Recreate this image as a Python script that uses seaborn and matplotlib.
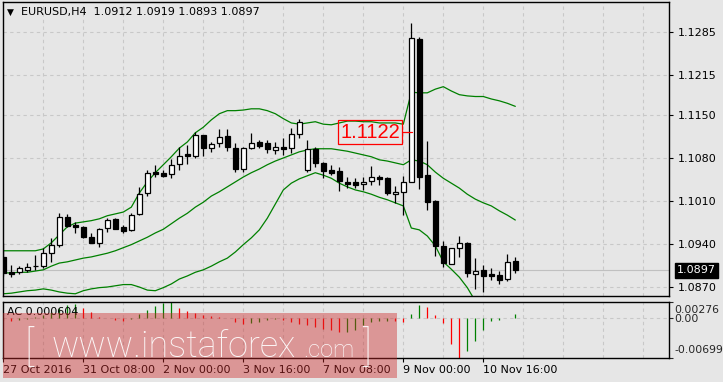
import numpy as np
import pandas as pd
import matplotlib
matplotlib.use("Agg")
import matplotlib.pyplot as plt
import seaborn as sns
from matplotlib.patches import Rectangle

# ---------------- data ----------------
open_ = [1.0919, 1.0894, 1.0894, 1.0898, 1.0904, 1.0904, 1.0925, 1.0939, 1.0984, 1.0971,
         1.0968, 1.0951, 1.0942, 1.0966, 1.0981, 1.0968, 1.0963, 1.0989, 1.1023, 1.1057,
         1.1056, 1.1054, 1.1070, 1.1087, 1.1083, 1.1117, 1.1096, 1.1104, 1.1116, 1.1096,
         1.1062, 1.1096, 1.1106, 1.1104, 1.1093, 1.1098, 1.1096, 1.1119, 1.1060, 1.1095,
         1.1072, 1.1060, 1.1059, 1.1041, 1.1041, 1.1038, 1.1043, 1.1049, 1.1047, 1.1021,
         1.1025, 1.1041, 1.1274, 1.1052, 1.1010, 1.0937, 1.0908, 1.0934, 1.0942, 1.0891,
         1.0898, 1.0891, 1.0890, 1.0883, 1.0912]
high = [1.0942, 1.0906, 1.0904, 1.0909, 1.0922, 1.0934, 1.0950, 1.0990, 1.0989, 1.0976,
        1.0969, 1.0958, 1.0966, 1.0982, 1.0982, 1.0971, 1.0990, 1.1033, 1.1060, 1.1069,
        1.1060, 1.1078, 1.1098, 1.1101, 1.1122, 1.1117, 1.1106, 1.1127, 1.1127, 1.1104,
        1.1098, 1.1121, 1.1109, 1.1109, 1.1106, 1.1113, 1.1129, 1.1144, 1.1109, 1.1098,
        1.1073, 1.1069, 1.1065, 1.1049, 1.1047, 1.1049, 1.1067, 1.1052, 1.1049, 1.1034,
        1.1051, 1.1300, 1.1277, 1.1108, 1.1012, 1.0945, 1.0934, 1.0953, 1.0943, 1.0917,
        1.0906, 1.0901, 1.0896, 1.0924, 1.0919]
low = [1.0888, 1.0886, 1.0891, 1.0894, 1.0898, 1.0901, 1.0911, 1.0935, 1.0968, 1.0958,
       1.0950, 1.0942, 1.0935, 1.0960, 1.0964, 1.0958, 1.0961, 1.0987, 1.1018, 1.1049,
       1.1049, 1.1047, 1.1060, 1.1070, 1.1080, 1.1083, 1.1090, 1.1098, 1.1091, 1.1057,
       1.1057, 1.1095, 1.1096, 1.1088, 1.1087, 1.1085, 1.1088, 1.1113, 1.1057, 1.1065,
       1.1047, 1.1052, 1.1026, 1.1031, 1.1031, 1.1028, 1.1036, 1.1036, 1.1020, 1.1007,
       1.0987, 1.1041, 1.1030, 1.0995, 1.0921, 1.0903, 1.0908, 1.0919, 1.0886, 1.0867,
       1.0862, 1.0882, 1.0875, 1.0880, 1.0893]
close = [1.0893, 1.0891, 1.0901, 1.0903, 1.0904, 1.0925, 1.0939, 1.0984, 1.0969, 1.0968,
         1.0951, 1.0942, 1.0964, 1.0979, 1.0964, 1.0961, 1.0987, 1.1021, 1.1056, 1.1054,
         1.1051, 1.1069, 1.1083, 1.1083, 1.1117, 1.1096, 1.1103, 1.1114, 1.1098, 1.1062,
         1.1096, 1.1104, 1.1100, 1.1095, 1.1098, 1.1095, 1.1119, 1.1139, 1.1095, 1.1072,
         1.1059, 1.1056, 1.1043, 1.1038, 1.1036, 1.1041, 1.1049, 1.1046, 1.1023, 1.1025,
         1.1041, 1.1275, 1.1049, 1.1008, 1.0937, 1.0909, 1.0934, 1.0942, 1.0893, 1.0896,
         1.0888, 1.0888, 1.0882, 1.0911, 1.0897]

bb_upper = [1.0929, 1.0929, 1.0929, 1.0929, 1.0929, 1.0932, 1.0942, 1.0955, 1.0968, 1.0974,
            1.0976, 1.0978, 1.0981, 1.0986, 1.0989, 1.0992, 1.1000, 1.1023, 1.1041, 1.1056,
            1.1069, 1.1082, 1.1096, 1.1106, 1.1121, 1.1130, 1.1142, 1.1152, 1.1157, 1.1157,
            1.1158, 1.1160, 1.1160, 1.1157, 1.1152, 1.1144, 1.1137, 1.1135, 1.1137, 1.1139,
            1.1135, 1.1134, 1.1137, 1.1140, 1.1140, 1.1139, 1.1139, 1.1137, 1.1137, 1.1137,
            1.1135, 1.1187, 1.1186, 1.1186, 1.1192, 1.1196, 1.1189, 1.1183, 1.1181, 1.1180,
            1.1180, 1.1176, 1.1173, 1.1169, 1.1164]
bb_middle = [1.0893, 1.0893, 1.0894, 1.0894, 1.0896, 1.0898, 1.0904, 1.0909, 1.0911, 1.0914,
             1.0917, 1.0919, 1.0922, 1.0925, 1.0929, 1.0934, 1.0939, 1.0945, 1.0951, 1.0958,
             1.0964, 1.0973, 1.0982, 1.0990, 1.1000, 1.1008, 1.1018, 1.1025, 1.1033, 1.1041,
             1.1049, 1.1056, 1.1062, 1.1069, 1.1075, 1.1080, 1.1085, 1.1090, 1.1093, 1.1095,
             1.1095, 1.1095, 1.1093, 1.1091, 1.1088, 1.1085, 1.1082, 1.1077, 1.1075, 1.1072,
             1.1069, 1.1077, 1.1075, 1.1069, 1.1057, 1.1047, 1.1039, 1.1031, 1.1021, 1.1013,
             1.1007, 1.1002, 1.0994, 1.0987, 1.0979]
bb_lower = [1.0859, 1.0860, 1.0862, 1.0864, 1.0865, 1.0867, 1.0865, 1.0862, 1.0860, 1.0859,
            1.0864, 1.0867, 1.0869, 1.0870, 1.0872, 1.0874, 1.0874, 1.0870, 1.0865, 1.0864,
            1.0869, 1.0875, 1.0883, 1.0888, 1.0894, 1.0898, 1.0904, 1.0911, 1.0917, 1.0927,
            1.0939, 1.0950, 1.0963, 1.0982, 1.1005, 1.1028, 1.1039, 1.1046, 1.1051, 1.1056,
            1.1052, 1.1047, 1.1039, 1.1033, 1.1028, 1.1025, 1.1021, 1.1016, 1.1012, 1.1007,
            1.1002, 1.0966, 1.0963, 1.0953, 1.0937, 1.0911, 1.0899, 1.0886, 1.0869, 1.0847,
            1.0834, 1.0826, 1.0815, 1.0806, 1.0794]

ac = [-0.0003, -0.0005, -0.0004, -0.0002, 0.0001, 0.0005, 0.0010, 0.0018, 0.0022, 0.0024,
      0.0018, 0.0011, 0.0002, -0.0001, -0.0004, -0.0005, -0.0002, 0.0007, 0.0013, 0.0020,
      0.0025, 0.00276, 0.0018, 0.0012, 0.0008, 0.0005, 0.0003, 0.0001, 0.0000, -0.0007,
      -0.0010, -0.0009, -0.0007, -0.0004, -0.0002, -0.0004, -0.0007, -0.0010, -0.0013, -0.0016,
      -0.0019, -0.0022, -0.0025, -0.0024, -0.0022, -0.0013, -0.0007, -0.0006, -0.0005, -0.0006,
      -0.0007, 0.0007, 0.0022, 0.0019, 0.0005, -0.0009, -0.0046, -0.00699, -0.0058, -0.0041,
      -0.0021, -0.0005, -0.0003, 0.0000, 0.000604]

date_labels = ["27 Oct 2016", "31 Oct 08:00", "2 Nov 00:00", "3 Nov 16:00",
               "7 Nov 08:00", "9 Nov 00:00", "10 Nov 16:00"]
date_label_bars = [0, 10, 20, 30, 40, 50, 60]
price_ticks = [1.1285, 1.1215, 1.1150, 1.1080, 1.1010, 1.0940, 1.0870]
price_tick_labels = ["1.1285", "1.1215", "1.1150", "1.1080", "1.1010", "1.0940", "1.0870"]
ac_top, ac_bottom = 0.00276, -0.00699
last_price = 1.0897
marked_price = 1.1122
header = "EURUSD,H4  1.0912 1.0919 1.0893 1.0897"

# ---------------- style ----------------
sns.set_style("white")
plt.rcParams['font.family'] = ['DejaVu Sans']
BG = '#e6e6e6'
GRID = '#c8c8c8'
GREEN = '#008000'
FS = 8.0

W, H = 723, 382
fig = plt.figure(figsize=(W / 100, H / 100), dpi=100)
fig.patch.set_facecolor(BG)


def fx(px):
    return px / W


def fy(py):
    return 1 - py / H


ax = fig.add_axes([fx(3), fy(296), fx(669) - fx(3), fy(2) - fy(296)])
ax2 = fig.add_axes([fx(3), fy(358), fx(669) - fx(3), fy(302) - fy(358)])
for a in (ax, ax2):
    a.set_facecolor(BG)
    for s in a.spines.values():
        s.set_color('black')
        s.set_linewidth(1.0)

df = pd.DataFrame({'bar': np.arange(len(close)), 'open': open_, 'high': high,
                   'low': low, 'close': close, 'upper': bb_upper,
                   'middle': bb_middle, 'lower': bb_lower, 'ac': ac})

XMIN, XMAX = -0.04, 83.21
dash = (0, (3, 3))

# ---------------- main chart ----------------
for k in range(5, 84, 5):
    ax.axvline(k, color=GRID, lw=0.8, ls=dash, zorder=0)
for p in price_ticks:
    ax.axhline(p, color=GRID, lw=0.8, ls=dash, zorder=0)
ax.axhline(last_price, color='#c0c0c0', lw=0.8, zorder=0.5)

for col in ['upper', 'middle', 'lower']:
    sns.lineplot(data=df, x='bar', y=col, ax=ax, color=GREEN, lw=0.9, zorder=2)

ax.vlines(df['bar'], df['low'], df['high'], color='black', lw=0.9, zorder=3)
up = df['close'] >= df['open']
body_lo = np.minimum(df['open'], df['close'])
body_h = np.abs(df['close'] - df['open'])
ax.bar(df['bar'][up], body_h[up], bottom=body_lo[up], width=0.62,
       color='white', edgecolor='black', linewidth=0.9, zorder=4)
ax.bar(df['bar'][~up], body_h[~up], bottom=body_lo[~up], width=0.62,
       color='black', edgecolor='black', linewidth=0.9, zorder=4)

ax.set_xlim(XMIN, XMAX)
ax.set_ylim(1.08554, 1.13338)
ax.set_xlabel('')
ax.set_ylabel('')
ax.set_xticks([])
ax.yaxis.tick_right()
ax.set_yticks(price_ticks)
ax.set_yticklabels(price_tick_labels)
ax.tick_params(axis='y', direction='out', length=3, width=0.8, pad=3,
               labelsize=FS, colors='black', right=True, left=False)

# marked level label
ax.text(45.84, marked_price, "1.1122", color='red', fontsize=14.5,
        family=['Liberation Sans', 'DejaVu Sans'], ha='center', va='center', zorder=6,
        bbox=dict(boxstyle='square,pad=0.12', fc='none', ec='red', lw=0.9))
ax.plot([49.84, 51.1], [marked_price, marked_price], color='red', lw=0.9, zorder=6)

# current price box
ax.annotate("1.0897", xy=(1.0, last_price), xycoords=('axes fraction', 'data'),
            xytext=(8, 0), textcoords='offset pixels', color='white', fontsize=FS,
            ha='left', va='center', zorder=7, annotation_clip=False,
            bbox=dict(boxstyle='square,pad=0.22', fc='black', ec='black'))

# header
fig.text(fx(7), fy(12.5), "\u25BC", fontsize=6.5, va='center', ha='left', color='black')
fig.text(fx(21), fy(12.5), header, fontsize=FS, va='center', ha='left', color='black')

# ---------------- AC indicator ----------------
for k in range(5, 84, 5):
    ax2.axvline(k, color=GRID, lw=0.8, ls=dash, zorder=0)
ax2.axhline(0, color=GRID, lw=0.8, ls=dash, zorder=0)
diffs = np.diff(np.r_[df['ac'].iloc[0], df['ac'].values])
colors = [GREEN if d >= 0 else 'red' for d in diffs]
colors[0] = 'red'
ax2.vlines(df['bar'], 0, df['ac'], colors=colors, lw=0.9, zorder=2)
ax2.set_xlim(XMIN, XMAX)
ax2.set_ylim(ac_bottom, ac_top)
ax2.set_yticks([ac_top, 0, ac_bottom])
ax2.set_yticklabels([])
ax2.yaxis.tick_right()
ax2.tick_params(axis='y', direction='out', length=3, width=0.8, right=True, left=False)
for val, lab, dy in [(ac_top, "0.00276", -8), (0, "0.00", -1), (ac_bottom, "-0.00699", 8)]:
    ax2.annotate(lab, xy=(1.0, val), xycoords=('axes fraction', 'data'),
                 xytext=(5, dy), textcoords='offset pixels', fontsize=7.8,
                 ha='left', va='center', annotation_clip=False)
ax2.text(0.006, 0.83, "AC 0.000604", transform=ax2.transAxes, fontsize=FS,
         ha='left', va='center', color='black')

ax2.set_xticks(date_label_bars)
ax2.set_xticklabels(date_labels)
ax2.tick_params(axis='x', direction='out', length=3, width=0.8, pad=2,
                labelsize=FS, colors='black', bottom=True)
for lab in ax2.get_xticklabels():
    lab.set_ha('left')

# ---------------- watermark ----------------
fig.add_artist(Rectangle((fx(3), fy(378)), fx(397) - fx(3), fy(313) - fy(378),
                         transform=fig.transFigure, fc=(0.80, 0.16, 0.16),
                         alpha=0.42, ec='none', zorder=20))
wm_kw = dict(color='white', alpha=0.92, zorder=21, va='baseline')
fig.text(fx(24), fy(362), "[", fontsize=30, family=['Roboto', 'DejaVu Sans'],
         weight='light', ha='left', **wm_kw)
fig.text(fx(52), fy(357), "www.instaforex", fontsize=26, family=['Roboto', 'DejaVu Sans'],
         weight='light', ha='left', **wm_kw)
fig.text(fx(303), fy(357), ".com", fontsize=17, family=['Roboto', 'DejaVu Sans'],
         weight='light', ha='left', **wm_kw)
fig.text(fx(362), fy(362), "]", fontsize=30, family=['Roboto', 'DejaVu Sans'],
         weight='light', ha='left', **wm_kw)

fig.savefig("out.png", dpi=100, facecolor=BG)
